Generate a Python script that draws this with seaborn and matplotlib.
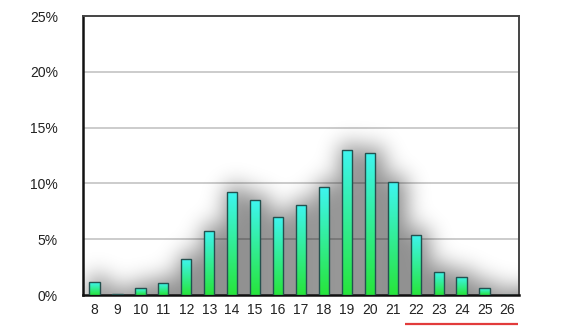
import numpy as np
import pandas as pd
import matplotlib
matplotlib.use("Agg")
import matplotlib.pyplot as plt
import seaborn as sns
from matplotlib.colors import LinearSegmentedColormap
from matplotlib.transforms import blended_transform_factory

categories = ["8", "9", "10", "11", "12", "13", "14", "15", "16", "17",
              "18", "19", "20", "21", "22", "23", "24", "25", "26"]
values = [1.15, 0.1, 0.6, 1.05, 3.2, 5.75, 9.2, 8.5, 6.95, 8.1,
          9.65, 13.0, 12.75, 10.1, 5.4, 2.1, 1.65, 0.6, 0.0]
yticks = [0, 5, 10, 15, 20, 25]
ytick_labels = ["0%", "5%", "10%", "15%", "20%", "25%"]
underlined = ["22", "23", "24", "25", "26"]

sns.set_style("white")
plt.rcParams["font.family"] = ["Liberation Sans", "DejaVu Sans"]

df = pd.DataFrame({"cat": categories, "val": values})

fig = plt.figure(figsize=(5.62, 3.35), dpi=100)
ax = fig.add_axes([0.1477, 0.1194, 0.7758, 0.8326])

bar_w = 0.45
n = len(categories)
xmin, xmax, ymax = -0.5, n - 0.5, 25.0

# blurred drop shadow built from the bar data
nx, ny = 440, 280
gx = np.linspace(xmin, xmax, nx)
gy = np.linspace(0, ymax, ny)
X, Y = np.meshgrid(gx, gy)
mask = np.zeros_like(X)
for i, v in enumerate(values):
    mask[(np.abs(X - i - 0.15) <= bar_w / 2 + 0.2) & (Y <= v + 0.5)] = 1.0

def blur(a, sigma, axis):
    r = int(3 * sigma)
    k = np.exp(-0.5 * (np.arange(-r, r + 1) / sigma) ** 2)
    k /= k.sum()
    return np.apply_along_axis(lambda m: np.convolve(np.pad(m, r, mode="edge"), k, mode="valid"), axis, a)

sh = blur(blur(mask, 11.0, 1), 11.0, 0)
rgba = np.zeros((ny, nx, 4))
rgba[..., 3] = np.clip(sh * 0.5, 0, 1)
ax.imshow(rgba, origin="lower", aspect="auto", extent=(xmin, xmax, 0, ymax),
          zorder=1, interpolation="bilinear")

sns.barplot(data=df, x="cat", y="val", width=bar_w, color="#33ee88",
            edgecolor="#24514f", linewidth=1.0, ax=ax, zorder=3)

cmap = LinearSegmentedColormap.from_list("g", ["#27e53b", "#3ef5f0"])
grad = np.linspace(0, 1, 100).reshape(-1, 1)
for p in list(ax.patches):
    x0, w = p.get_x(), p.get_width()
    h = p.get_height()
    if h <= 0:
        continue
    im = ax.imshow(grad, cmap=cmap, origin="lower", aspect="auto",
                   extent=(x0, x0 + w, 0, h), zorder=3.5)
    im.set_clip_path(p)
    p.set_facecolor("none")
    p.set_zorder(4)

ax.set_xlim(xmin, xmax)
ax.set_ylim(0, ymax)
ax.set_yticks(yticks)
ax.set_yticklabels(ytick_labels)
ax.set_xlabel("")
ax.set_ylabel("")
ax.tick_params(axis="both", length=0, labelsize=10, colors="#222222")
ax.tick_params(axis="y", pad=18)
ax.tick_params(axis="x", pad=6)
for y in [5, 10, 15, 20]:
    ax.axhline(y, color="#c4c4c4", lw=1.2, zorder=0.5)

for s in ["left", "bottom"]:
    ax.spines[s].set_color("#111111")
    ax.spines[s].set_linewidth(1.8)
for s in ["top", "right"]:
    ax.spines[s].set_color("#444444")
    ax.spines[s].set_linewidth(1.4)

i0 = categories.index(underlined[0])
i1 = categories.index(underlined[-1])
tr = blended_transform_factory(ax.transData, ax.transAxes)
ax.plot([i0 - 0.47, i1 + 0.45], [-0.105, -0.105], color="#e23b3b", lw=1.6,
        transform=tr, clip_on=False, solid_capstyle="butt")

fig.savefig("out.png", dpi=100)
